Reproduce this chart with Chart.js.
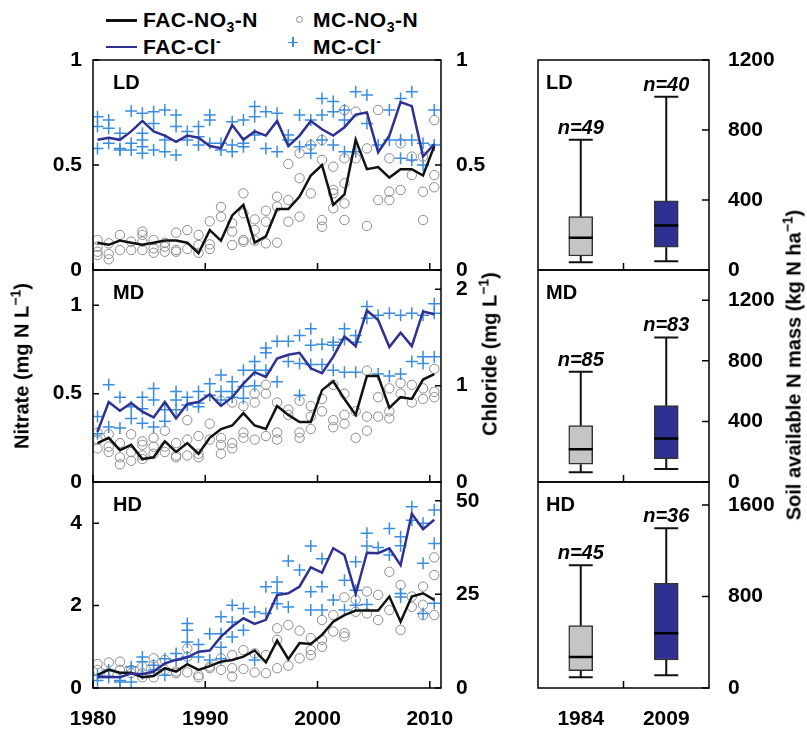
<!DOCTYPE html>
<html><head><meta charset="utf-8">
<script src="https://cdn.jsdelivr.net/npm/chart.js@4.4.0/dist/chart.umd.min.js"></script>
<style>
body{margin:0;width:807px;height:739px;background:#fff;position:relative;overflow:hidden;font-family:"Liberation Sans",Arial,sans-serif;font-weight:bold;color:#000;}
canvas{position:absolute;}
.t{position:absolute;font-size:21px;line-height:21px;font-weight:bold;white-space:nowrap;letter-spacing:0.5px;}
.t sub{font-size:14px;vertical-align:-5px;line-height:0;}
.t sup{font-size:14px;vertical-align:8px;line-height:0;}
.rot{transform:translate(-50%,-50%) rotate(-90deg);font-size:20px;letter-spacing:0;}
.k{position:absolute;}
</style></head><body>

<div class="k" style="left:106px;top:19px;width:31px;height:2.5px;background:#111"></div>
<div class="t" style="left:143px;top:9px">FAC-NO<sub>3</sub>-N</div>
<div class="k" style="left:295.5px;top:15.5px;width:7px;height:7px;border:1px solid #8c8c8c;border-radius:50%;box-sizing:border-box"></div>
<div class="t" style="left:313px;top:9px">MC-NO<sub>3</sub>-N</div>
<div class="k" style="left:106px;top:45.5px;width:31px;height:2.5px;background:#2e3192"></div>
<div class="t" style="left:143px;top:36px">FAC-Cl<sup>-</sup></div>
<div class="k" style="left:288px;top:41.5px;width:10px;height:1.5px;background:#3a8dde"></div>
<div class="k" style="left:292.25px;top:37px;width:1.5px;height:10px;background:#3a8dde"></div>
<div class="t" style="left:313px;top:36px">MC-Cl<sup>-</sup></div>

<canvas id="cLD" width="530" height="290" style="left:0;top:20px"></canvas>
<canvas id="cMD" width="530" height="292" style="left:0;top:230px"></canvas>
<canvas id="cHD" width="530" height="296" style="left:0;top:442px"></canvas>
<canvas id="bLD" width="307" height="290" style="left:500px;top:20px"></canvas>
<canvas id="bMD" width="307" height="292" style="left:500px;top:230px"></canvas>
<canvas id="bHD" width="307" height="296" style="left:500px;top:442px"></canvas>

<div class="t rot" style="left:22px;top:366px">Nitrate (mg N L<sup>−1</sup>)</div>
<div class="t rot" style="left:490px;top:354px">Chloride (mg L<sup>−1</sup>)</div>
<div class="t rot" style="left:794px;top:365px">Soil available N mass (kg N ha<sup>−1</sup>)</div>

<script>
// ---------------- DATA ----------------
const years = [1980,1981,1982,1983,1984,1985,1986,1987,1988,1989,1990,1991,1992,1993,1994,1995,1996,1997,1998,1999,2000,2001,2002,2003,2004,2005,2006,2007,2008,2009,2010];
const yearTicks = [1980,1990,2000,2010];

// LD
const facNO3_LD = [0.13,0.12,0.14,0.13,0.12,0.13,0.14,0.14,0.13,0.08,0.19,0.14,0.26,0.31,0.13,0.16,0.29,0.29,0.35,0.45,0.50,0.31,0.36,0.62,0.48,0.49,0.44,0.48,0.48,0.45,0.59];
const facCl_LD = [0.62,0.63,0.62,0.66,0.71,0.66,0.64,0.61,0.64,0.63,0.59,0.58,0.69,0.62,0.66,0.64,0.71,0.59,0.64,0.71,0.67,0.64,0.68,0.74,0.75,0.56,0.64,0.80,0.78,0.54,0.60];
const mcNO3_LD = [[0.143,0.111,0.087,0.071],[0.127,0.076,0.051],[0.167,0.095],[0.135,0.095],[0.183,0.167,0.135,0.095],[0.143,0.103,0.082],[0.13,0.111,0.087],[0.178,0.095,0.087],[0.19,0.1],[0.167,0.119,0.082],[0.232,0.122,0.1],[0.30,0.254],[0.222,0.183,0.119],[0.365,0.27,0.143,0.135],[0.241,0.19,0.14],[0.282,0.23,0.127],[0.349,0.302,0.13],[0.505,0.333,0.23],[0.556,0.437,0.254],[0.595,0.365],[0.619,0.524,0.238,0.206],[0.492,0.381,0.365,0.294],[0.762,0.532,0.413,0.317,0.238],[0.754,0.532],[0.579,0.21],[0.762,0.333],[0.532,0.373,0.333],[0.603,0.381],[0.54,0.452],[0.54,0.373,0.238],[0.714,0.452,0.394]];
const mcCl_LD = [[0.73,0.683,0.579],[0.714,0.675,0.603],[0.651,0.571,0.579],[0.757,0.603,0.571],[0.746,0.651,0.619,0.587,0.556],[0.754,0.698,0.571],[0.762,0.619,0.563],[0.738,0.683,0.548],[0.659,0.619],[0.683,0.635,0.595],[0.738,0.714,0.603],[0.603,0.571],[0.706,0.595,0.563],[0.714,0.603,0.587],[0.778,0.73,0.643],[0.754,0.579],[0.746,0.563],[0.643,0.619],[0.738,0.587],[0.714,0.595,0.556],[0.817,0.738,0.619],[0.802,0.754,0.595],[0.762,0.714,0.563],[0.849,0.563],[0.833,0.698],[0.595],[0.762,0.619],[0.817,0.619,0.532],[0.849,0.619,0.524],[0.603,0.5],[0.762,0.595]];

// MD
const facNO3_MD = [0.22,0.25,0.18,0.21,0.13,0.14,0.23,0.17,0.22,0.16,0.25,0.30,0.32,0.39,0.32,0.30,0.43,0.38,0.34,0.34,0.52,0.57,0.47,0.38,0.60,0.60,0.42,0.48,0.47,0.58,0.61];
const facCl_MD = [0.52,0.83,0.74,0.82,0.73,0.67,0.83,0.66,0.81,0.83,0.91,0.79,0.88,1.02,1.14,1.09,1.28,1.32,1.34,1.18,1.13,1.30,1.51,1.41,1.78,1.68,1.40,1.55,1.41,1.77,1.74];
const mcNO3_MD = [[0.28,0.24,0.19],[0.27,0.2,0.17],[0.22,0.14,0.10],[0.27,0.17,0.12],[0.23,0.21,0.15,0.13],[0.25,0.20,0.16],[0.29,0.2,0.17],[0.22,0.15,0.14],[0.35,0.24,0.15],[0.26,0.16,0.14],[0.33,0.24],[0.46,0.25,0.21,0.16],[0.45,0.22,0.19],[0.43,0.28,0.25],[0.50,0.45,0.24],[0.55,0.50,0.26],[0.45,0.28,0.24],[0.41,0.38],[0.46,0.28,0.25],[0.43,0.37,0.30],[0.47,0.40],[0.55,0.35,0.31],[0.50,0.38,0.33],[0.40,0.25],[0.63,0.37,0.29],[0.48,0.37],[0.53,0.40,0.36],[0.56,0.50],[0.55,0.45],[0.53,0.47],[0.64,0.51,0.48]];
const mcCl_MD = [[0.68,0.50],[1.01,0.57],[0.88,0.56],[0.78,0.66],[0.88,0.76,0.61],[0.97,0.85,0.57],[0.75,0.63],[0.94,0.85,0.75],[0.88,0.80],[0.94,0.82,0.78],[1.02,0.90],[1.11,0.94,0.85],[1.04,0.94,0.88],[1.16,0.99,0.87],[1.25,1.16,1.00],[1.39,1.34,1.16],[1.46,1.04],[1.46,1.25],[1.52,1.23,0.90],[1.59,1.42,1.22],[1.43,1.22],[1.45,1.42,1.16],[1.59,1.48,1.14],[1.52,1.45,1.14],[1.82,1.70],[1.73,1.12],[1.75,1.10],[1.73,1.12],[1.75,1.25],[1.73,1.30,1.23],[1.85,1.75,1.30]];

// HD
const facNO3_HD = [0.32,0.44,0.37,0.37,0.26,0.29,0.48,0.40,0.58,0.44,0.53,0.64,0.68,0.76,0.91,0.62,1.15,0.70,1.09,1.07,1.29,1.61,1.77,1.88,1.88,1.88,2.22,1.61,2.22,2.30,2.14];
const facCl_HD = [2.9,3.0,2.9,3.9,3.7,4.4,6.6,7.5,8.2,9.7,10.0,13.7,16.4,18.6,17.1,18.2,24.8,25.3,27.1,32.2,30.8,37.3,35.5,25.1,36.1,36.0,37.3,32.8,46.5,42.4,44.9];
const mcNO3_HD = [[0.58,0.44],[0.62,0.37],[0.64,0.44],[0.44,0.36],[0.52,0.36,0.26],[0.72,0.56,0.26],[0.68,0.44],[0.40,0.36],[0.96,0.76,0.38],[0.31,0.26],[0.52,0.48],[0.72,0.44],[0.80,0.48,0.28],[0.92,0.46],[0.84,0.38],[0.80,0.36],[1.45,1.17,0.48],[1.53,0.54],[1.39,0.72],[1.21,0.92,0.80],[1.65,1.17,1.00],[1.77,1.37],[2.20,1.33,1.25],[2.14,1.85],[2.34,1.81],[2.26,1.65],[2.82,1.89],[2.50,1.41],[2.22,1.97],[2.46,2.02,1.77],[3.17,2.74,1.77]];
const mcCl_HD = [[3.4,2.0],[4.8,2.8],[2.0,1.6],[5.7,1.6],[8.3,7.0,3.8],[6.1,4.8],[7.8,3.4],[9.2,7.5],[17.2,15.4,12.3,8.3],[11.6,8.3],[14.5,7.5],[19.0,14.5,10.9,7.8],[22.1,17.6,13.6],[21.2,15.4],[20.3,7.5],[27.0,19.9],[28.3,25.4,22.5],[33.9,21.6],[31.5],[37.9,25.7,20.8],[34.5,27.0,20.8],[23.5],[28.8,20.8],[33.7,26.1,22.1],[41.3,37.9,22.3],[37.5],[42.6,35.5],[40.4,38.0,25.2,24.3],[48.4,44.8],[44.0,33.3,19.9],[47.5,38.6,22.6]];

const nitrateTicksLD = [0,0.5,1],  chlorideTicksLD = [0,0.5,1];
const nitrateTicksMD = [0,0.5,1],  chlorideTicksMD = [0,1,2];
const nitrateTicksHD = [0,2,4],    chlorideTicksHD = [0,25,50];

// Box plots (soil available N mass, kg N/ha)
const boxYears = ['1984','2009'];
const boxMinLD = [45,50],  boxQ1LD = [80,130],  boxMedLD = [185,255], boxQ3LD = [305,395], boxMaxLD = [745,990],  boxNLD = [49,40];
const boxMinMD = [64,86],  boxQ1MD = [117,154], boxMedMD = [216,288], boxQ3MD = [372,504], boxMaxMD = [728,955],  boxNMD = [85,83];
const boxMinHD = [93,111], boxQ1HD = [151,245], boxMedHD = [271,478], boxQ3HD = [545,915], boxMaxHD = [1072,1396], boxNHD = [45,36];
const massTicksLD = [0,400,800,1200], massTicksMD = [0,400,800,1200], massTicksHD = [0,800,1600];

// ---------------- RENDER ----------------
const F = '"Liberation Sans", Arial, Helvetica, sans-serif';
Chart.defaults.font.family = F;
Chart.defaults.font.size = 21;
Chart.defaults.font.weight = 'bold';
Chart.defaults.color = '#000';

const X_SHIFT = 0.4; // samples plotted slightly after the year mark
function series(vals){ return vals.map((v,i)=>({x:years[i]+X_SHIFT, y:v})); }
function cloud(lists){ const out=[]; lists.forEach((arr,i)=>arr.forEach(v=>out.push({x:years[i]+X_SHIFT, y:v}))); return out; }
function setTicks(arr){ return s => { s.ticks = arr.map(v=>({value:v})); }; }
const noGrid = {display:false, drawTicks:false};
const PAD = 40;

function linePanel(id, p){
  const frame = {
    id:'frame_'+id,
    afterDraw(chart){
      const {ctx, chartArea:a, scales} = chart;
      ctx.save();
      ctx.strokeStyle='#000'; ctx.lineWidth=1.5;
      ctx.strokeRect(a.left, a.top, a.right-a.left, a.bottom-a.top);
      ctx.beginPath();
      yearTicks.forEach(v=>{ const x=scales.x.getPixelForValue(v); ctx.moveTo(x,a.bottom); ctx.lineTo(x,a.bottom-7); });
      p.nTicks.forEach(v=>{ const y=scales.yN.getPixelForValue(v); ctx.moveTo(a.left,y); ctx.lineTo(a.left+6,y); });
      p.cTicks.forEach(v=>{ const y=scales.yC.getPixelForValue(v); ctx.moveTo(a.right,y); ctx.lineTo(a.right-6,y); });
      ctx.stroke();
      ctx.fillStyle='#000'; ctx.font='bold 20px '+F; ctx.textAlign='left'; ctx.textBaseline='alphabetic';
      ctx.fillText(p.label, a.left+20, a.top+29);
      ctx.restore();
    }
  };
  new Chart(document.getElementById(id), {
    type:'scatter',
    data:{datasets:[
      {type:'line', label:'FAC-Cl', data:series(p.facC), yAxisID:'yC', borderColor:'#2e3192', borderWidth:2.5, pointRadius:0, tension:0, fill:false, order:0},
      {type:'line', label:'FAC-NO3-N', data:series(p.facN), yAxisID:'yN', borderColor:'#111', borderWidth:2.5, pointRadius:0, tension:0, fill:false, order:0},
      {type:'scatter', label:'MC-Cl', data:cloud(p.mcC), yAxisID:'yC', pointStyle:'cross', pointRadius:6, borderColor:'#3a8dde', borderWidth:1.5, backgroundColor:'#3a8dde', order:1},
      {type:'scatter', label:'MC-NO3-N', data:cloud(p.mcN), yAxisID:'yN', pointStyle:'circle', pointRadius:4.7, borderColor:'#8c8c8c', borderWidth:1, backgroundColor:'rgba(0,0,0,0)', order:1}
    ]},
    options:{
      responsive:false, animation:false, devicePixelRatio:1,
      layout:{padding:{top:PAD, bottom:p.showX?0:PAD, left:0, right:0}},
      plugins:{legend:{display:false}, tooltip:{enabled:false}},
      scales:{
        x:{type:'linear', min:1980, max:2011, display:p.showX, afterBuildTicks:setTicks(yearTicks),
           grid:noGrid, border:{display:false},
           ticks:{autoSkip:false, maxRotation:0, padding:19, callback:v=>String(v)},
           afterFit:s=>{ s.height = p.showX ? 50 : 0; }},
        yN:{type:'linear', position:'left', min:0, max:p.nMax, afterBuildTicks:setTicks(p.nTicks),
            grid:noGrid, border:{display:false},
            ticks:{autoSkip:false, padding:11, callback:v=>String(v)},
            afterFit:s=>{ s.width = 93; }},
        yC:{type:'linear', position:'right', min:0, max:p.cMax, afterBuildTicks:setTicks(p.cTicks),
            grid:noGrid, border:{display:false},
            ticks:{autoSkip:false, padding:15, callback:v=>String(v)},
            afterFit:s=>{ s.width = 89; }}
      }
    },
    plugins:[frame]
  });
}

function boxPanel(id, p){
  const deco = {
    id:'box_'+id,
    beforeDatasetsDraw(chart){
      const {ctx, scales} = chart; const xs=scales.x, ys=scales.y;
      ctx.save(); ctx.strokeStyle='#111'; ctx.lineWidth=2;
      ctx.beginPath();
      boxYears.forEach((_,i)=>{
        const x=xs.getPixelForValue(i);
        ctx.moveTo(x, ys.getPixelForValue(p.min[i])); ctx.lineTo(x, ys.getPixelForValue(p.q1[i]));
        ctx.moveTo(x, ys.getPixelForValue(p.q3[i])); ctx.lineTo(x, ys.getPixelForValue(p.max[i]));
        [p.min[i], p.max[i]].forEach(v=>{ const y=ys.getPixelForValue(v); ctx.moveTo(x-12,y); ctx.lineTo(x+12,y); });
      });
      ctx.stroke(); ctx.restore();
    },
    afterDatasetsDraw(chart){
      const {ctx, scales} = chart; const xs=scales.x, ys=scales.y;
      ctx.save(); ctx.strokeStyle='#000'; ctx.lineWidth=2.5;
      ctx.beginPath();
      boxYears.forEach((_,i)=>{ const x=xs.getPixelForValue(i), y=ys.getPixelForValue(p.med[i]); ctx.moveTo(x-12,y); ctx.lineTo(x+12,y); });
      ctx.stroke();
      ctx.fillStyle='#000'; ctx.font='italic bold 20px '+F; ctx.textAlign='center'; ctx.textBaseline='alphabetic';
      boxYears.forEach((_,i)=>{ ctx.fillText('n='+p.n[i], xs.getPixelForValue(i), ys.getPixelForValue(p.max[i])-6); });
      ctx.restore();
    },
    afterDraw(chart){
      const {ctx, chartArea:a, scales} = chart;
      ctx.save(); ctx.strokeStyle='#000'; ctx.lineWidth=1.5;
      ctx.strokeRect(a.left, a.top, a.right-a.left, a.bottom-a.top);
      ctx.beginPath();
      const mid = (scales.x.getPixelForValue(0)+scales.x.getPixelForValue(1))/2;
      ctx.moveTo(mid, a.bottom); ctx.lineTo(mid, a.bottom-7);
      p.ticks.forEach(v=>{ const y=scales.y.getPixelForValue(v); ctx.moveTo(a.right,y); ctx.lineTo(a.right-7,y); });
      ctx.stroke();
      ctx.fillStyle='#000'; ctx.font='bold 20px '+F; ctx.textAlign='left'; ctx.textBaseline='alphabetic';
      ctx.fillText(p.label, a.left+8, a.top+29);
      ctx.restore();
    }
  };
  new Chart(document.getElementById(id), {
    type:'bar',
    data:{labels:boxYears, datasets:[{
      data:p.q1.map((v,i)=>[v, p.q3[i]]),
      backgroundColor:['#c4c6c4','#2e3192'], borderColor:'#333', borderWidth:1.5, borderSkipped:false, barThickness:24
    }]},
    options:{
      responsive:false, animation:false, devicePixelRatio:1,
      layout:{padding:{top:PAD, bottom:p.showX?0:PAD, left:38, right:0}},
      plugins:{legend:{display:false}, tooltip:{enabled:false}},
      scales:{
        x:{type:'category', offset:true, display:p.showX, grid:{display:false, drawTicks:false, offset:true}, border:{display:false},
           ticks:{padding:19, maxRotation:0, autoSkip:false}, afterFit:s=>{ s.height = p.showX ? 50 : 0; }},
        y:{type:'linear', position:'right', min:0, max:p.yMax, afterBuildTicks:setTicks(p.ticks),
           grid:noGrid, border:{display:false},
           ticks:{autoSkip:false, padding:19, callback:v=>String(v)},
           afterFit:s=>{ s.width=98; }}
      }
    },
    plugins:[deco]
  });
}

linePanel('cLD', {label:'LD', facN:facNO3_LD, facC:facCl_LD, mcN:mcNO3_LD, mcC:mcCl_LD, nMax:1, cMax:1, nTicks:nitrateTicksLD, cTicks:chlorideTicksLD, showX:false});
linePanel('cMD', {label:'MD', facN:facNO3_MD, facC:facCl_MD, mcN:mcNO3_MD, mcC:mcCl_MD, nMax:1.2, cMax:2.2, nTicks:nitrateTicksMD, cTicks:chlorideTicksMD, showX:false});
linePanel('cHD', {label:'HD', facN:facNO3_HD, facC:facCl_HD, mcN:mcNO3_HD, mcC:mcCl_HD, nMax:5, cMax:55, nTicks:nitrateTicksHD, cTicks:chlorideTicksHD, showX:true});

boxPanel('bLD', {label:'LD', min:boxMinLD, q1:boxQ1LD, med:boxMedLD, q3:boxQ3LD, max:boxMaxLD, n:boxNLD, yMax:1200, ticks:massTicksLD, showX:false});
boxPanel('bMD', {label:'MD', min:boxMinMD, q1:boxQ1MD, med:boxMedMD, q3:boxQ3MD, max:boxMaxMD, n:boxNMD, yMax:1400, ticks:massTicksMD, showX:false});
boxPanel('bHD', {label:'HD', min:boxMinHD, q1:boxQ1HD, med:boxMedHD, q3:boxQ3HD, max:boxMaxHD, n:boxNHD, yMax:1800, ticks:massTicksHD, showX:true});
</script>
</body></html>
